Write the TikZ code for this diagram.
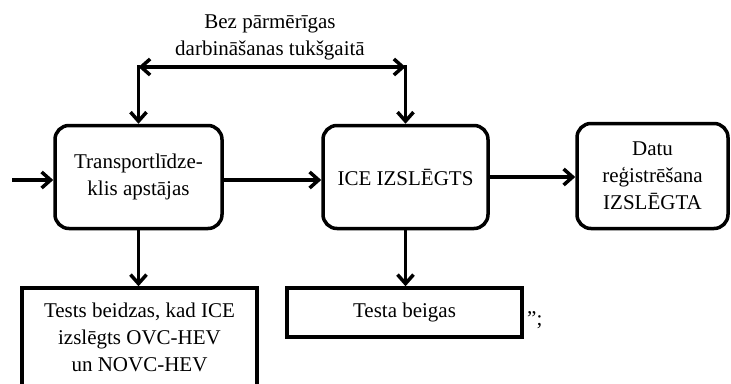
\documentclass[tikz,border=0pt]{standalone}
\usepackage{fontspec}
\setmainfont{Liberation Serif}
\usetikzlibrary{arrows.meta}
\begin{document}
\begin{tikzpicture}[x=1pt,y=-1pt,
  every node/.style={font=\fontsize{21}{27}\selectfont, align=center},
  rbox/.style={draw, line width=3.5pt, rounded corners=14pt, inner sep=0pt},
  sbox/.style={draw, line width=3.5pt, inner sep=0pt},
  conn/.style={line width=3.5pt, -{Straight Barb[length=9pt,width=16pt]}},
  biconn/.style={line width=3.5pt, {Straight Barb[length=9pt,width=16pt]}-{Straight Barb[length=9pt,width=16pt]}},
]
\useasboundingbox (0,0) rectangle (731,383);
\clip (0,0) rectangle (731,383);
\node[rbox, minimum width=167pt, minimum height=103pt] (A) at (138.5,177) {Transportlīdze-\\klis apstājas};
\node[rbox, minimum width=165pt, minimum height=103pt] (B) at (405.5,177) {ICE IZSLĒGTS};
\node[rbox, minimum width=151pt, minimum height=105pt] (C) at (652.5,176) {Datu\\reģistrēšana\\IZSLĒGTA};
\node[sbox, minimum width=235pt, minimum height=98pt] (D) at (139.5,337) {Tests beidzas, kad ICE\\izslēgts OVC-HEV\\un NOVC-HEV};
\node[sbox, minimum width=235pt, minimum height=49pt] (E) at (404.5,312.5) {Testa beigas};
\node (T) at (270,37) {Bez pārmērīgas\\darbināšanas tukšgaitā};
\node[anchor=west, inner sep=0pt] (Q) at (527,320) {”;};
\coordinate (in) at (12,180);
\coordinate (tl) at (138.5,67);
\coordinate (tr) at (405.5,67);
\draw[conn] (in) -- (in -| A.west);
\draw[conn] (A.east |- in) -- (B.west |- in);
\draw[conn] (B.east) -- (C.west |- B.east);
\draw[conn] (A.south) -- (A.south |- D.north);
\draw[conn] (B.south) -- (B.south |- E.north);
\draw[biconn] (tl) -- (tr);
\draw[conn, line cap=rect] (tl) -- (A.north);
\draw[conn, line cap=rect] (tr) -- (B.north);
\end{tikzpicture}
\end{document}
